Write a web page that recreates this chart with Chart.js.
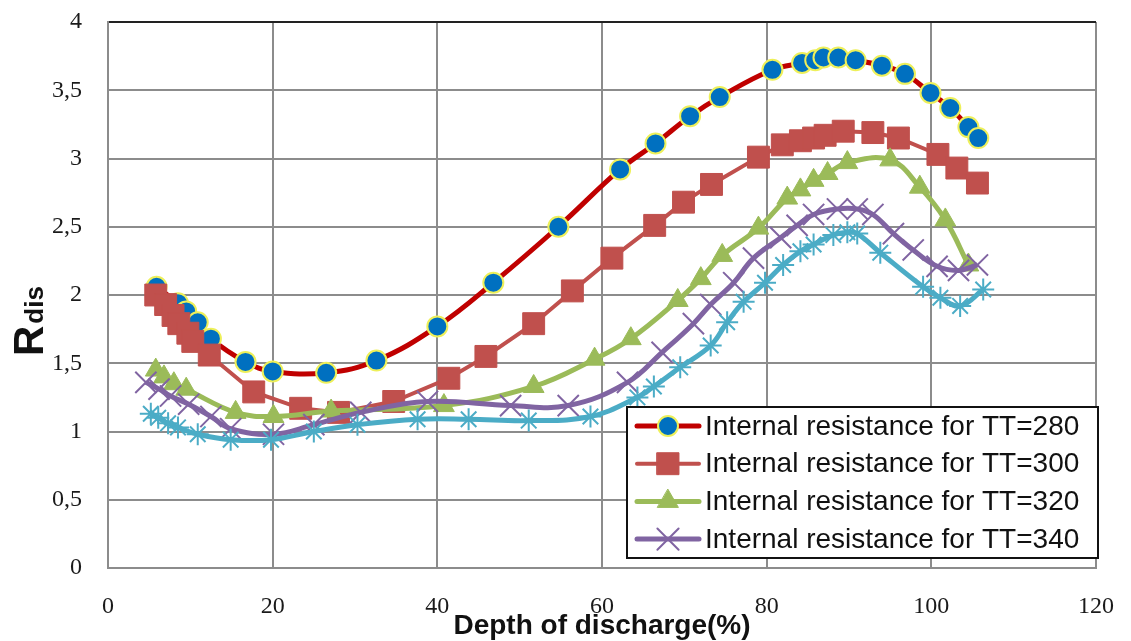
<!DOCTYPE html>
<html lang="en">
<head>
<meta charset="UTF-8">
<title>Internal resistance vs depth of discharge</title>
<style>
    html, body {
        margin: 0;
        padding: 0;
        background: #fff;
    }
    #wrap {
        position: relative;
        width: 1131px;
        height: 641px;
    }
</style>
<script src="https://cdn.jsdelivr.net/npm/chart.js@4"></script>
</head>
<body>
<div id="wrap"><canvas id="chart" width="1131" height="641"></canvas></div>
<script>
    // series: depth of discharge (%) and R_dis
    const seriesNames = [
        'Internal resistance for TT=280',
        'Internal resistance for TT=300',
        'Internal resistance for TT=320',
        'Internal resistance for TT=340',
        'Internal resistance for TT=360'
    ];

    const dod280 = [5.9, 8.5, 9.5, 10.9, 12.5, 16.7, 20.0, 26.5, 32.6, 40.0, 46.8, 54.7, 62.2, 66.5, 70.7, 74.3, 80.7, 84.3, 85.9, 86.9, 88.7, 90.8, 94.0, 96.8, 99.9, 102.3, 104.5, 105.7];
    const r280   = [2.06, 1.94, 1.88, 1.80, 1.68, 1.51, 1.44, 1.43, 1.52, 1.77, 2.09, 2.50, 2.92, 3.11, 3.31, 3.45, 3.65, 3.70, 3.72, 3.74, 3.74, 3.72, 3.68, 3.62, 3.48, 3.37, 3.23, 3.15];

    const dod300 = [5.8, 7.0, 7.9, 8.6, 9.7, 10.3, 12.3, 17.7, 23.4, 28.0, 34.7, 41.4, 45.9, 51.7, 56.4, 61.2, 66.4, 69.9, 73.3, 79.0, 81.9, 84.1, 85.7, 87.1, 89.3, 92.9, 96.0, 100.8, 103.1, 105.6];
    const r300   = [2.00, 1.93, 1.85, 1.79, 1.72, 1.66, 1.56, 1.29, 1.17, 1.14, 1.22, 1.39, 1.55, 1.79, 2.03, 2.27, 2.51, 2.68, 2.81, 3.01, 3.10, 3.13, 3.15, 3.17, 3.20, 3.19, 3.15, 3.03, 2.93, 2.82];

    const dod320 = [5.8, 6.8, 8.0, 9.5, 15.5, 20.1, 27.1, 40.8, 51.7, 59.1, 63.5, 69.2, 72.0, 74.6, 79.0, 82.5, 84.1, 85.7, 87.4, 89.8, 95.0, 98.6, 101.7, 104.5];
    const r320   = [1.45, 1.40, 1.35, 1.31, 1.14, 1.11, 1.15, 1.19, 1.33, 1.53, 1.68, 1.96, 2.12, 2.29, 2.49, 2.71, 2.77, 2.84, 2.89, 2.97, 2.99, 2.79, 2.55, 2.22];

    const dod340 = [4.6, 6.2, 7.6, 9.8, 12.5, 14.9, 20.1, 25.0, 30.7, 38.8, 48.9, 55.9, 63.1, 67.3, 71.1, 73.2, 76.0, 78.4, 81.7, 83.7, 85.7, 88.6, 91.0, 92.9, 95.4, 97.8, 100.7, 103.3, 105.6];
    const r340   = [1.36, 1.31, 1.26, 1.20, 1.11, 1.02, 0.98, 1.05, 1.14, 1.22, 1.19, 1.19, 1.36, 1.58, 1.79, 1.93, 2.09, 2.27, 2.42, 2.51, 2.59, 2.63, 2.63, 2.59, 2.45, 2.33, 2.21, 2.18, 2.22];

    const dod360 = [5.2, 6.1, 7.3, 8.5, 10.9, 14.9, 19.8, 25.0, 30.3, 37.6, 43.8, 51.1, 58.6, 64.3, 66.3, 69.5, 73.2, 75.2, 77.2, 79.8, 82.0, 84.1, 85.7, 88.1, 89.8, 91.0, 93.8, 99.0, 101.1, 103.5, 106.3];
    const r360   = [1.13, 1.10, 1.06, 1.03, 0.98, 0.94, 0.94, 1.00, 1.05, 1.09, 1.09, 1.08, 1.11, 1.25, 1.33, 1.47, 1.63, 1.80, 1.95, 2.09, 2.22, 2.32, 2.37, 2.44, 2.46, 2.45, 2.31, 2.06, 1.98, 1.92, 2.04];

    const xTicks = [0, 20, 40, 60, 80, 100, 120];
    const yTicks = [0, 0.5, 1, 1.5, 2, 2.5, 3, 3.5, 4];

    const toPoints = (xs, ys) => xs.map((x, i) => ({ x: x, y: ys[i] }));

    const tickFont = { family: "'Liberation Serif', 'Times New Roman', serif", size: 24 };
    const gridGrey = '#8c8c8c';

    // legend box, axis titles (R with subscript "dis")
    const decor = {
        id: 'decor',
        afterDraw(chart) {
            const ctx = chart.ctx;
            const area = chart.chartArea;
            ctx.save();

            // x title
            ctx.fillStyle = '#111';
            ctx.font = "bold 28px 'Liberation Sans', Arial, sans-serif";
            ctx.textAlign = 'center';
            ctx.textBaseline = 'middle';
            ctx.fillText('Depth of discharge(%)', (area.left + area.right) / 2, area.bottom + 58);

            // y title
            ctx.save();
            ctx.translate(area.left - 65, area.top + 334);
            ctx.rotate(-Math.PI / 2);
            ctx.textAlign = 'left';
            ctx.textBaseline = 'alphabetic';
            ctx.font = "bold 42px 'Liberation Sans', Arial, sans-serif";
            ctx.fillText('R', 0, 0);
            const rw = ctx.measureText('R').width;
            ctx.font = "bold 26px 'Liberation Sans', Arial, sans-serif";
            ctx.fillText('dis', rw + 2, 0);
            ctx.restore();

            // legend
            const boxL = area.right - 469, boxT = area.bottom - 161;
            const boxW = 471, boxH = 151;
            ctx.fillStyle = '#fff';
            ctx.fillRect(boxL, boxT, boxW, boxH);
            ctx.strokeStyle = '#111';
            ctx.lineWidth = 2;
            ctx.strokeRect(boxL, boxT, boxW, boxH);

            ctx.font = "28px 'Liberation Sans', Arial, sans-serif";
            ctx.textAlign = 'left';
            ctx.textBaseline = 'middle';
            for (let i = 0; i < 4; i++) {
                const ds = chart.data.datasets[i];
                const y = boxT + 19 + i * 37.7;
                ctx.strokeStyle = ds.borderColor;
                ctx.lineWidth = ds.borderWidth;
                ctx.lineCap = 'round';
                ctx.beginPath();
                ctx.moveTo(boxL + 10, y);
                ctx.lineTo(boxL + 72, y);
                ctx.stroke();
                ctx.fillStyle = ds.pointBackgroundColor;
                ctx.strokeStyle = ds.pointBorderColor;
                ctx.lineWidth = ds.pointBorderWidth;
                Chart.helpers.drawPoint(ctx, {
                    pointStyle: ds.pointStyle,
                    radius: ds.pointRadius,
                    borderWidth: ds.pointBorderWidth,
                    rotation: 0
                }, boxL + 41, y);
                ctx.fillStyle = '#111';
                ctx.fillText(ds.label, boxL + 78, y + 1);
            }
            ctx.restore();
        }
    };

    new Chart(document.getElementById('chart'), {
        type: 'line',
        data: {
            datasets: [
                {
                    label: seriesNames[0],
                    data: toPoints(dod280, r280),
                    borderColor: '#C00000',
                    borderWidth: 5,
                    tension: 0.4,
                    pointStyle: 'circle',
                    pointRadius: 10,
                    pointBackgroundColor: '#0070C0',
                    pointBorderColor: '#EEF05A',
                    pointBorderWidth: 2,
                    order: 5
                },
                {
                    label: seriesNames[1],
                    data: toPoints(dod300, r300),
                    borderColor: '#C0504D',
                    borderWidth: 4,
                    tension: 0,
                    pointStyle: 'rect',
                    pointRadius: 15.5,
                    pointBackgroundColor: '#C0504D',
                    pointBorderColor: '#C0504D',
                    pointBorderWidth: 1,
                    order: 4
                },
                {
                    label: seriesNames[2],
                    data: toPoints(dod320, r320),
                    borderColor: '#9BBB59',
                    borderWidth: 5,
                    tension: 0.4,
                    pointStyle: 'triangle',
                    pointRadius: 12,
                    pointBackgroundColor: '#9BBB59',
                    pointBorderColor: '#9BBB59',
                    pointBorderWidth: 1,
                    order: 3
                },
                {
                    label: seriesNames[3],
                    data: toPoints(dod340, r340),
                    borderColor: '#8064A2',
                    borderWidth: 5,
                    tension: 0.4,
                    pointStyle: 'crossRot',
                    pointRadius: 15,
                    pointBackgroundColor: '#8064A2',
                    pointBorderColor: '#8064A2',
                    pointBorderWidth: 2,
                    order: 2
                },
                {
                    label: seriesNames[4],
                    data: toPoints(dod360, r360),
                    borderColor: '#4BACC6',
                    borderWidth: 5,
                    tension: 0.4,
                    pointStyle: 'star',
                    pointRadius: 11,
                    pointBackgroundColor: '#4BACC6',
                    pointBorderColor: '#4BACC6',
                    pointBorderWidth: 2,
                    order: 1
                }
            ]
        },
        options: {
            responsive: false,
            animation: false,
            devicePixelRatio: 1,
            layout: { padding: { left: 0, right: 35, top: 22, bottom: 0 } },
            plugins: {
                legend: { display: false },
                tooltip: { enabled: false }
            },
            scales: {
                x: {
                    type: 'linear',
                    min: xTicks[0],
                    max: xTicks[xTicks.length - 1],
                    afterBuildTicks: s => { s.ticks = xTicks.map(v => ({ value: v })); },
                    afterFit: s => { s.height = 73; },
                    ticks: { font: tickFont, color: '#1a1a1a', padding: 0, maxRotation: 0 },
                    // invisible tick marks stand in for the label gap
                    grid: { color: gridGrey, lineWidth: 2, drawTicks: true, tickLength: 24, tickColor: 'rgba(0,0,0,0)' },
                    border: { color: gridGrey, width: 2 }
                },
                y: {
                    min: yTicks[0],
                    max: yTicks[yTicks.length - 1],
                    afterBuildTicks: s => { s.ticks = yTicks.map(v => ({ value: v })); },
                    afterFit: s => { s.width = 108; },
                    ticks: {
                        font: tickFont,
                        color: '#1a1a1a',
                        padding: 0,
                        callback: v => String(v).replace('.', ',')
                    },
                    grid: {
                        color: c => (c.tick && c.tick.value === 4 ? '#222' : gridGrey),
                        lineWidth: 2,
                        drawTicks: true,
                        tickLength: 26,
                        tickColor: 'rgba(0,0,0,0)'
                    },
                    border: { color: gridGrey, width: 2 }
                }
            }
        },
        plugins: [decor]
    });
</script>
</body>
</html>
